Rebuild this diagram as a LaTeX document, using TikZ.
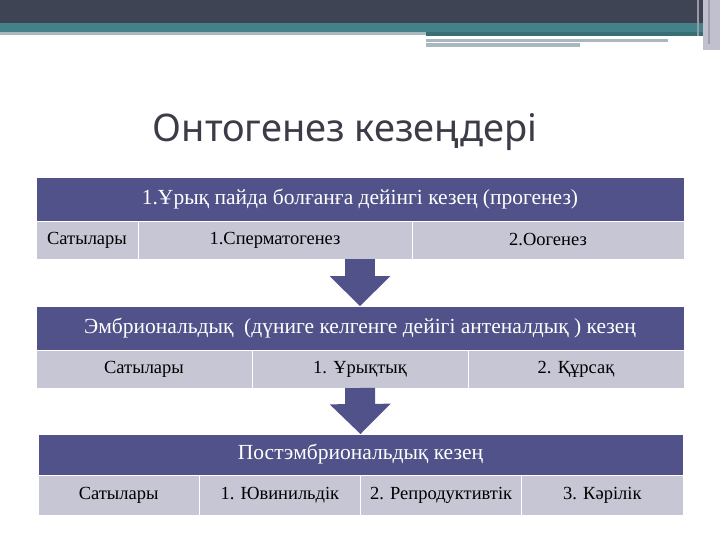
\documentclass[tikz,border=0pt]{standalone}
\usepackage{fontspec}
\setmainfont{Liberation Serif}
\newfontfamily\titlefont{Noto Sans}
\usepackage{xcolor}
\usepackage{tikz}
\usetikzlibrary{arrows.meta,positioning}
\definecolor{banddark}{RGB}{62,68,84}
\definecolor{bandteal}{RGB}{68,130,138}
\definecolor{bandline}{RGB}{168,184,190}
\definecolor{bandside}{RGB}{192,192,206}
\definecolor{headpurple}{RGB}{81,82,137}
\definecolor{rowgray}{RGB}{199,198,212}
\definecolor{titlegray}{RGB}{60,60,72}
\tikzstyle{stagearrow} = [line width=30pt,draw=headpurple,-{Triangle[width=61pt,length=30pt,line width=0pt]}]

\begin{document}
\begin{tikzpicture}[x=1pt,y=-1pt,
    head/.style={rectangle, draw=white, line width=0.8pt, fill=headpurple, text=white,
                 minimum width=648pt, minimum height=44pt, anchor=north west,
                 inner sep=0pt, outer sep=0pt, font=\fontsize{21.5}{24}\selectfont},
    cell/.style={rectangle, draw=white, line width=0.8pt, fill=rowgray, text=black,
                 minimum height=38pt, inner sep=0pt, outer sep=0pt,
                 font=\fontsize{18.5}{21}\selectfont},
    node distance=0pt
]
\useasboundingbox (0,0) rectangle (720,540);
\fill[white] (0,0) rectangle (720,540);
% top band
\fill[banddark] (0,0) rectangle (703,23);
\fill[bandteal] (0,23) rectangle (703,32);
\fill[bandline] (0,32) rectangle (426,35);
\fill[bandteal!85!black] (426,32) rectangle (703,36);
\fill[bandline] (426,39) rectangle (668,42);
\fill[bandline] (426,43) rectangle (580,47);
\fill[bandside] (703,0) rectangle (720,50);
\fill[bandside!80!black] (697,0) rectangle (699,36);
\fill[banddark!50] (708,0) rectangle (710,44);

\node[font=\titlefont\fontsize{38}{40}\selectfont, text=titlegray, anchor=base] (title) at (345,142) {Онтогенез кезеңдері};

% progenesis
\node[head] (h1) at (36,177) {1.Ұрық пайда болғанға дейінгі кезең (прогенез)};
\node[cell, minimum width=102pt, anchor=north west] (s1) at (h1.south west) {Сатылары};
\node[cell, minimum width=274pt, right=of s1] (s2) {1.Сперматогенез};
\node[cell, minimum width=272pt, right=of s2] (s3) {2.Оогенез};

% embryonic
\node[head] (h2) at (36,306) {Эмбриональдық\ \ (дүниге келгенге дейігі антеналдық ) кезең};
\node[cell, minimum width=216pt, anchor=north west] (e1) at (h2.south west) {Сатылары};
\node[cell, minimum width=216pt, right=of e1] (e2) {1. Ұрықтық};
\node[cell, minimum width=216pt, right=of e2] (e3) {2. Құрсақ};

% postembryonic
\node[head, minimum width=645pt, minimum height=41pt] (h3) at (38,434) {Постэмбриональдық кезең};
\node[cell, minimum width=161.25pt, minimum height=40pt, anchor=north west] (p1) at (h3.south west) {Сатылары};
\node[cell, minimum width=161.25pt, minimum height=40pt, right=of p1] (p2) {1. Ювинильдік};
\node[cell, minimum width=161.25pt, minimum height=40pt, right=of p2] (p3) {2. Репродуктивтік};
\node[cell, minimum width=161.25pt, minimum height=40pt, right=of p3] (p4) {3. Кәрілік};

\draw[stagearrow] (h1.south |- s1.south) -- (h2.north);
\draw[stagearrow] (h2.south |- e1.south) -- (h3.north);
\end{tikzpicture}
\end{document}
